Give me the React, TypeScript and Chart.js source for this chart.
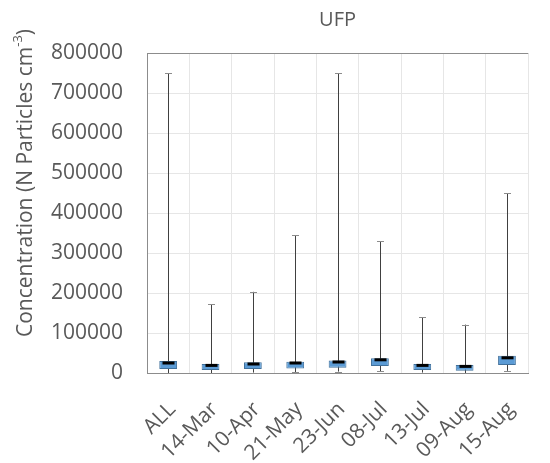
import React, { useEffect, useRef } from "react";
import { Chart, registerables } from "chart.js";

Chart.register(...registerables);

const categories = ["ALL", "14-Mar", "10-Apr", "21-May", "23-Jun", "08-Jul", "13-Jul", "09-Aug", "15-Aug"];
const minVals = [0, 0, 1000, 2500, 3500, 4000, 1000, 0, 5500];
const q1Vals = [10000, 7500, 10000, 11000, 13000, 17500, 7500, 5500, 20000];
const medianVals = [25000, 19000, 22500, 25000, 27500, 33000, 19000, 16500, 38000];
const q3Vals = [30000, 22500, 27000, 28000, 31000, 37000, 22500, 20000, 43000];
const maxVals = [750000, 172000, 203000, 345000, 750000, 330000, 140000, 121000, 450000];

const chartTitle = "UFP";
const yTitleMain = "Concentration (N Particles cm";
const yTitleSup = "-3";
const yTitleEnd = ")";

const FONT = "'Open Sans', sans-serif";
const TEXT = "#595959";

const boxExtras = {
  id: "boxExtras",
  beforeDatasetsDraw(chart: any) {
    const { ctx, scales } = chart;
    const x = scales.x, y = scales.y;
    ctx.save();
    ctx.strokeStyle = "#404040";
    ctx.lineWidth = 1;
    categories.forEach((_, i) => {
      const px = Math.round(x.getPixelForValue(i)) + 0.5;
      ctx.beginPath();
      ctx.moveTo(px, y.getPixelForValue(maxVals[i]));
      ctx.lineTo(px, y.getPixelForValue(minVals[i]));
      ctx.stroke();
    });
    ctx.restore();
  },
  afterDatasetsDraw(chart: any) {
    const { ctx, scales } = chart;
    const x = scales.x, y = scales.y;
    ctx.save();
    categories.forEach((_, i) => {
      const px = Math.round(x.getPixelForValue(i)) + 0.5;
      ctx.strokeStyle = "#8c8c8c";
      ctx.lineWidth = 1;
      [maxVals[i], minVals[i]].forEach((v) => {
        const py = Math.round(y.getPixelForValue(v)) + 0.5;
        ctx.beginPath();
        ctx.moveTo(px - 3.5, py);
        ctx.lineTo(px + 3.5, py);
        ctx.stroke();
      });
      ctx.fillStyle = "#000000";
      const my = y.getPixelForValue(medianVals[i]);
      ctx.fillRect(px - 6, my - 1.5, 12, 3);
    });
    ctx.restore();
  },
  afterDraw(chart: any) {
    const { ctx } = chart;
    ctx.save();
    ctx.fillStyle = TEXT;
    ctx.textBaseline = "middle";
    ctx.textAlign = "left";
    const mainFont = `21px ${FONT}`;
    const supFont = `13px ${FONT}`;
    ctx.font = mainFont;
    const w1 = ctx.measureText(yTitleMain).width;
    const w3 = ctx.measureText(yTitleEnd).width;
    ctx.font = supFont;
    const w2 = ctx.measureText(yTitleSup).width;
    const total = w1 + w2 + w3;
    const cx = 26, cy = 183;
    ctx.translate(cx, cy);
    ctx.rotate(-Math.PI / 2);
    let sx = -total / 2;
    ctx.font = mainFont;
    ctx.fillText(yTitleMain, sx, 0);
    sx += w1;
    ctx.font = supFont;
    ctx.fillText(yTitleSup, sx, -8);
    sx += w2;
    ctx.font = mainFont;
    ctx.fillText(yTitleEnd, sx, 0);
    ctx.restore();
  },
};

export default function App() {
  const ref = useRef<HTMLCanvasElement | null>(null);
  useEffect(() => {
    document.body.style.margin = "0";
    const canvas = ref.current!;
    const chart = new Chart(canvas, {
      type: "bar",
      data: {
        labels: categories,
        datasets: [
          {
            data: q1Vals.map((q, i) => [q, q3Vals[i]]) as any,
            backgroundColor: "#5B9BD5",
            borderColor: "#41719C",
            borderWidth: 1,
            borderSkipped: false,
            barPercentage: 0.42,
            categoryPercentage: 1,
          },
        ],
      },
      options: {
        animation: false,
        responsive: false,
        devicePixelRatio: 1,
        layout: { padding: { left: 0, right: 0, top: 0, bottom: 0 } },
        plugins: {
          legend: { display: false },
          tooltip: { enabled: false },
          title: {
            display: true,
            text: chartTitle,
            fullSize: false,
            color: TEXT,
            font: { family: FONT, size: 20, weight: "normal" },
            padding: { top: 8, bottom: 21 },
          },
        },
        scales: {
          x: {
            type: "category",
            grid: { offset: true, color: "#e6e6e6", drawTicks: false },
            border: { color: "#8c8c8c" },
            ticks: {
              color: TEXT,
              font: { family: FONT, size: 21 },
              minRotation: 45,
              maxRotation: 45,
              padding: 24,
              labelOffset: 4,
              autoSkip: false,
            },
            afterFit: (s: any) => {
              s.height = 90;
            },
          },
          y: {
            min: 0,
            max: 800000,
            grid: {
              drawTicks: false,
              color: (c: any) => (c.tick && c.tick.value === 800000 ? "#8c8c8c" : "#e6e6e6"),
            },
            border: { color: "#8c8c8c" },
            ticks: {
              stepSize: 100000,
              color: TEXT,
              font: { family: FONT, size: 21 },
              padding: 24,
              callback: (v: any) => String(v),
            },
            afterFit: (s: any) => {
              s.width = 147;
            },
          },
        },
      },
      plugins: [boxExtras],
    });
    return () => chart.destroy();
  }, []);
  return (
    <div style={{ width: 550, height: 463 }}>
      <canvas ref={ref} width={550} height={463} />
    </div>
  );
}
